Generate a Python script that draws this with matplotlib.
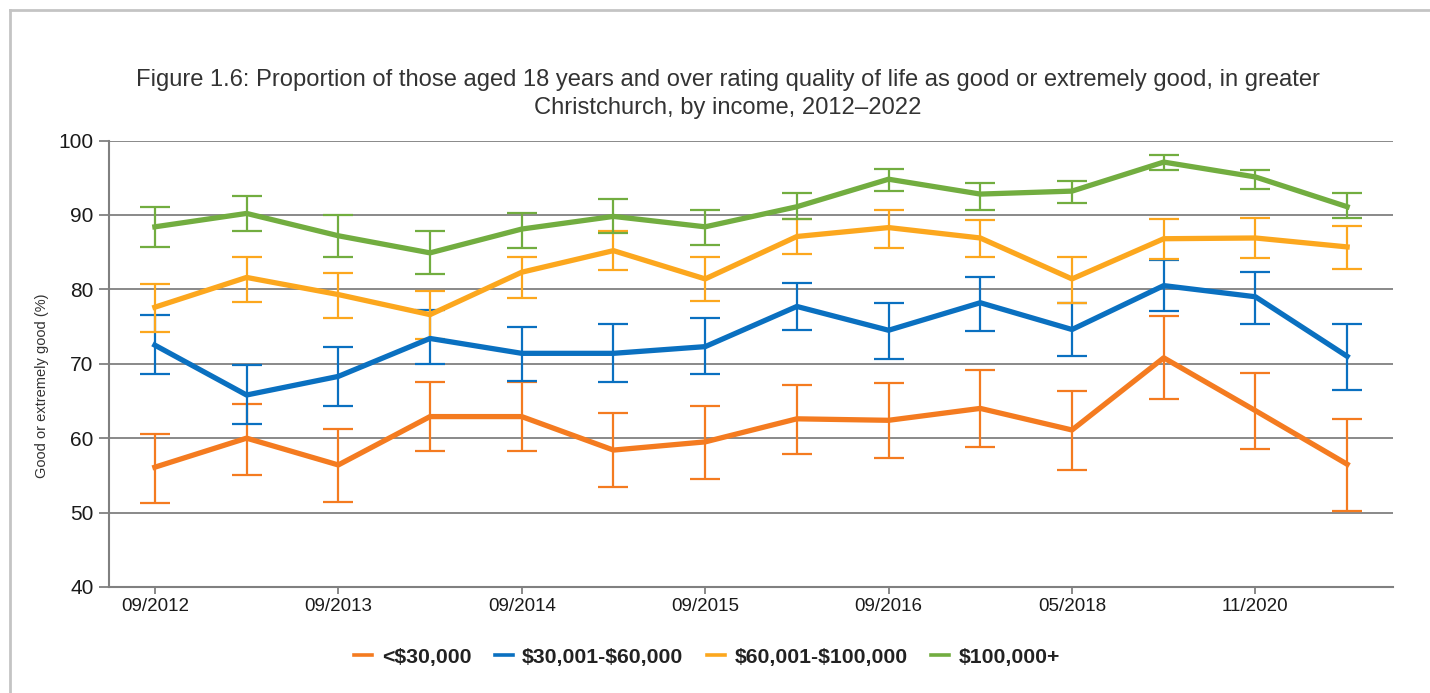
import numpy as np
import matplotlib
matplotlib.use('Agg')
import matplotlib.pyplot as plt
from matplotlib.lines import Line2D

# Survey periods (only every other one is labelled on the axis)
periods = ['09/2012', '', '09/2013', '', '09/2014', '', '09/2015', '',
           '09/2016', '', '05/2018', '', '11/2020', '']

# Series: value, lower bound, upper bound (% rating good/extremely good)
under_30k = [56.1, 60.0, 56.4, 62.9, 62.9, 58.4, 59.5, 62.6, 62.4, 64.0, 61.1, 70.8, 63.7, 56.5]
under_30k_lo = [51.3, 55.0, 51.4, 58.3, 58.3, 53.5, 54.5, 57.9, 57.4, 58.8, 55.7, 65.3, 58.5, 50.2]
under_30k_hi = [60.6, 64.6, 61.2, 67.6, 67.6, 63.4, 64.3, 67.2, 67.4, 69.1, 66.4, 76.4, 68.8, 62.6]

mid_30_60k = [72.5, 65.8, 68.3, 73.4, 71.4, 71.4, 72.3, 77.7, 74.5, 78.2, 74.6, 80.5, 79.0, 71.0]
mid_30_60k_lo = [68.6, 61.9, 64.3, 69.9, 67.7, 67.6, 68.6, 74.5, 70.6, 74.4, 71.1, 77.1, 75.4, 66.5]
mid_30_60k_hi = [76.5, 69.8, 72.2, 77.2, 74.9, 75.3, 76.1, 80.8, 78.1, 81.6, 78.1, 83.9, 82.3, 75.4]

mid_60_100k = [77.6, 81.6, 79.3, 76.6, 82.3, 85.2, 81.4, 87.1, 88.3, 86.9, 81.4, 86.8, 86.9, 85.7]
mid_60_100k_lo = [74.2, 78.3, 76.2, 73.3, 78.8, 82.6, 78.4, 84.8, 85.6, 84.3, 78.2, 84.1, 84.2, 82.7]
mid_60_100k_hi = [80.7, 84.4, 82.2, 79.8, 84.4, 87.9, 84.3, 89.4, 90.6, 89.3, 84.3, 89.4, 89.6, 88.5]

over_100k = [88.4, 90.2, 87.2, 84.9, 88.1, 89.8, 88.4, 91.1, 94.8, 92.8, 93.2, 97.1, 95.1, 91.1]
over_100k_lo = [85.7, 87.8, 84.3, 82.1, 85.6, 87.6, 85.9, 89.4, 93.2, 90.7, 91.6, 96.1, 93.5, 89.6]
over_100k_hi = [91.1, 92.5, 90.0, 87.8, 90.3, 92.1, 90.7, 92.9, 96.2, 94.3, 94.6, 98.0, 96.1, 93.0]

labels = [r'<\$30,000', r'\$30,001-\$60,000', r'\$60,001-\$100,000', r'\$100,000+']
colors = ['#F47B20', '#0A70C0', '#FCA71E', '#72AD40']

series = [
    (under_30k, under_30k_lo, under_30k_hi),
    (mid_30_60k, mid_30_60k_lo, mid_30_60k_hi),
    (mid_60_100k, mid_60_100k_lo, mid_60_100k_hi),
    (over_100k, over_100k_lo, over_100k_hi),
]

plt.rcParams['font.family'] = ['Liberation Sans', 'DejaVu Sans']

fig = plt.figure(figsize=(14.3, 6.93), dpi=100)
ax = fig.add_axes([109 / 1430, 106 / 693, 1284 / 1430, 446.5 / 693])

# light grey frame on top and left like the screenshot
fx, fy = 9.5 / 1430, 1 - 9.5 / 693
fig.add_artist(Line2D([fx, 1.01], [fy, fy], transform=fig.transFigure,
                      color='#c4c4c4', linewidth=2))
fig.add_artist(Line2D([fx, fx], [-0.01, fy], transform=fig.transFigure,
                      color='#c4c4c4', linewidth=2))

x = np.arange(len(periods))
for (vals, lo, hi), lab, col in zip(series, labels, colors):
    vals = np.array(vals)
    err = [vals - np.array(lo), np.array(hi) - vals]
    ax.errorbar(x, vals, yerr=err, color=col, linewidth=3.8, elinewidth=1.6,
                capsize=11, capthick=1.6, label=lab)

ax.set_xlim(-0.5, len(periods) - 0.5)
ax.set_ylim(40, 100)
ax.set_yticks(range(40, 101, 10))
ax.grid(axis='y', color='#808080', linewidth=1.3)
ax.set_axisbelow(True)

labelled = [i for i, p in enumerate(periods) if p]
ax.set_xticks(labelled)
ax.set_xticklabels([periods[i] for i in labelled], fontsize=13.5, color='#1a1a1a')
ax.tick_params(axis='y', labelsize=15, length=7, width=1.3, color='#808080',
               labelcolor='#1a1a1a', pad=4)
ax.tick_params(axis='x', length=5, width=1.3, color='#808080', pad=3)

for s in ['top', 'right']:
    ax.spines[s].set_visible(False)
for s in ['left', 'bottom']:
    ax.spines[s].set_color('#808080')
    ax.spines[s].set_linewidth(1.5)

fig.text(42 / 1430, 1 - 386 / 693, 'Good or extremely good (%)', rotation=90,
         ha='center', va='center', fontsize=10.5, color='#333333')

fig.text(728 / 1430, 1 - 94 / 693,
         'Figure 1.6: Proportion of those aged 18 years and over rating quality of life as good or extremely good, in greater\n'
         'Christchurch, by income, 2012\u20132022',
         ha='center', va='center', fontsize=17.1, color='#333333', linespacing=1.3)

handles = [Line2D([], [], color=c, linewidth=2.6) for c in colors]
leg = fig.legend(handles, labels, loc='center', bbox_to_anchor=(707 / 1430, 1 - 657 / 693),
                 ncol=4, frameon=False, handlelength=0.85, handletextpad=0.45,
                 columnspacing=1.1, prop={'weight': 'bold', 'size': 15.3})
for t in leg.get_texts():
    t.set_color('#222222')

fig.savefig('out.png', dpi=100)
